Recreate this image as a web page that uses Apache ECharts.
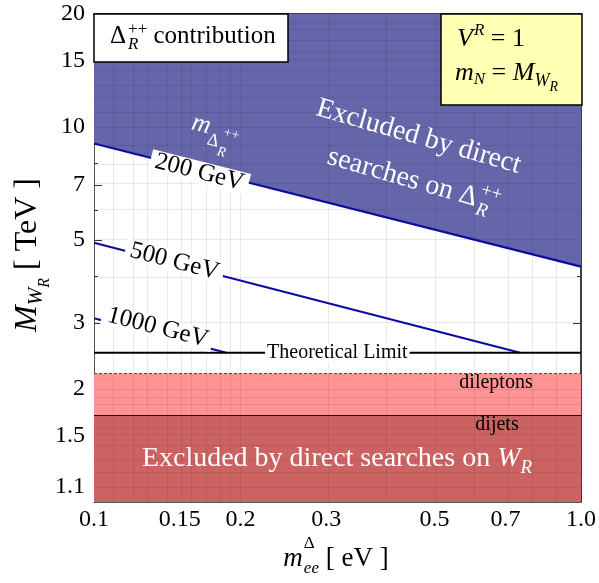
<!DOCTYPE html>
<html><head><meta charset="utf-8">
<script src="https://cdn.jsdelivr.net/npm/echarts@6/dist/echarts.min.js"></script>
<style>html,body{margin:0;padding:0;background:#fff}#c{width:599px;height:583px}</style>
</head><body><div id="c"></div>
<script>
// ---------------- data ----------------
const xRange = [0.1, 1.0];
const yRange = [1, 20];
const xTickLabels = [0.1, 0.15, 0.2, 0.3, 0.5, 0.7, 1.0];
const xMinorTicks = [0.11, 0.12, 0.13, 0.14, 0.16, 0.17, 0.18, 0.19, 0.4, 0.6, 0.8, 0.9];
const yTickLabels = [1.1, 1.5, 2, 3, 5, 7, 10, 15, 20];
const yMinorTicks = [1.2, 1.3, 1.4, 1.6, 1.7, 1.8, 1.9, 4, 6, 8, 9, 11, 12, 13, 14, 16, 17, 18, 19];
const contour200 = [[0.1, 9.03], [1.0, 4.24]];
const contour500 = [[0.1, 4.91], [0.75, 2.5]];
const contour1000 = [[0.1, 3.09], [0.187, 2.5]];
const contourNames = ['200 GeV', '500 GeV', '1000 GeV'];
const contourLabelX = [0.165, 0.146, 0.134];
const theoreticalLimit = 2.5;
const theoryLabelX = 0.316;
const dileptonLimit = 2.2;
const dijetLimit = 1.7;

// ---------------- helpers ----------------
const L = Math.log10;
const SERIF = '"Liberation Serif", "Times New Roman", serif';
const mctx = document.createElement('canvas').getContext('2d');
function fontOf(s, i) { return (i ? 'italic ' : '') + s + 'px ' + SERIF; }
function measure(t, f) { mctx.font = f; return mctx.measureText(t).width; }
function mathText(segs, o) {
  const kids = []; let cx = 0, held = 0;
  segs.forEach(g => {
    const f = fontOf(g.s, g.i);
    const w = measure(g.t, f);
    const x0 = cx + (g.dx || 0);
    kids.push({ type: 'text', x: x0, y: (g.dy || 0) - 0.34 * g.s, z: 100,
      style: { text: g.t, font: f, fill: o.color || '#000', align: 'left', verticalAlign: 'middle' } });
    if (g.stack) { held = Math.max(held, w + (g.dx || 0)); }
    else { cx = Math.max(x0 + w, cx + held); held = 0; }
  });
  const shift = o.align === 'center' ? -cx / 2 : 0;
  kids.forEach(k => { k.x += shift; });
  return { type: 'group', x: o.x, y: o.y, rotation: (o.rot || 0) * Math.PI / 180, z: 100, children: kids };
}
function nearestLabel(list, v) {
  return list.reduce((a, b) => Math.abs(L(b) - v) < Math.abs(L(a) - v) ? b : a);
}
function toLog(pts) { return pts.map(p => [L(p[0]), L(p[1])]); }
function onLine(pts, x) {
  const t = (L(x) - L(pts[0][0])) / (L(pts[1][0]) - L(pts[0][0]));
  return L(pts[0][1]) + t * (L(pts[1][1]) - L(pts[0][1]));
}

const allX = xTickLabels.concat(xMinorTicks);
const allY = yTickLabels.concat(yMinorTicks);
const majorX = xTickLabels;
const majorY = yTickLabels;

function mkAxis(dim, pos, vals, len, lineShow, lineColor, lineWidth, labels) {
  const r = dim === 'x' ? xRange : yRange;
  const ax = {
    type: 'value', position: pos, gridIndex: 0, min: L(r[0]), max: L(r[1]),
    axisLine: { show: lineShow, onZero: false, lineStyle: { color: lineColor, width: lineWidth } },
    axisTick: { show: true, inside: true, length: len, customValues: vals.map(L), lineStyle: { color: '#333', width: 1 } },
    splitLine: { show: false }, minorTick: { show: false }, minorSplitLine: { show: false },
    axisLabel: { show: false }
  };
  if (labels) {
    const list = dim === 'x' ? xTickLabels : yTickLabels;
    ax.axisLabel = {
      show: true, customValues: list.map(L), fontFamily: SERIF, fontSize: 24, color: '#000',
      margin: dim === 'x' ? 6 : 9,
      formatter: v => { const b = nearestLabel(list, v); return (dim === 'x' && b === 1) ? '1.0' : String(b); }
    };
  }
  return ax;
}

const xAxes = [
  mkAxis('x', 'bottom', allX, 4, true, '#555', 1, true),
  mkAxis('x', 'bottom', majorX, 8, false, '#555', 1, false),
  mkAxis('x', 'top', allX, 4, true, '#000', 1.5, false),
  mkAxis('x', 'top', majorX, 8, false, '#000', 1, false)
];
const yAxes = [
  mkAxis('y', 'left', allY, 4, true, '#555', 1, true),
  mkAxis('y', 'left', majorY, 8, false, '#555', 1, false),
  mkAxis('y', 'right', allY, 4, true, '#000', 1.5, false),
  mkAxis('y', 'right', majorY, 8, false, '#000', 1, false)
];

const gridMarks = xTickLabels.concat(xMinorTicks).filter(v => v > xRange[0] && v < xRange[1]).map(v => ({ xAxis: L(v) }))
  .concat(yTickLabels.concat(yMinorTicks).filter(v => v > yRange[0] && v < yRange[1]).map(v => ({ yAxis: L(v) })));

const contours = [contour200, contour500, contour1000];
const labelOffsets = [[0, 2], [0, -2], [0, -7]];
const BLUE_LINE = '#0c0ca0';

const series = [
  { type: 'line', name: 'excluded-delta', data: toLog(contour200), symbol: 'none', silent: true, z: 1,
    lineStyle: { width: 0 }, areaStyle: { origin: 'end', color: '#6565a9', opacity: 1 } },
  { type: 'line', name: 'dileptons', data: xRange.map(x => [L(x), L(dileptonLimit)]), symbol: 'none', silent: true, z: 1,
    lineStyle: { color: '#a02020', width: 1, type: [3, 2] }, areaStyle: { origin: 'start', color: '#ff9494', opacity: 1 } },
  { type: 'line', name: 'dijets', data: xRange.map(x => [L(x), L(dijetLimit)]), symbol: 'none', silent: true, z: 1,
    lineStyle: { color: '#000', width: 1 }, areaStyle: { origin: 'start', color: '#cc6363', opacity: 1 } },
  { type: 'line', name: 'grid', data: xRange.map(x => [L(x), L(yRange[0])]), symbol: 'none', silent: true, z: 2,
    lineStyle: { opacity: 0 },
    markLine: { silent: true, z: 2, symbol: ['none', 'none'], animation: false, label: { show: false },
      lineStyle: { color: 'rgba(0,0,0,0.085)', width: 1, type: 'solid' }, emphasis: { disabled: true }, data: gridMarks } },
  ...contours.map((c, i) => ({ type: 'line', name: contourNames[i], data: toLog(c), symbol: 'none', silent: true, z: 3,
    lineStyle: { color: BLUE_LINE, width: 2.2 } })),
  { type: 'line', name: 'theory', data: xRange.map(x => [L(x), L(theoreticalLimit)]), symbol: 'none', silent: true, z: 3,
    lineStyle: { color: '#000', width: 2 } },
  { type: 'scatter', name: 'contour-labels', symbolSize: 0, silent: true, z: 10, itemStyle: { opacity: 1 },
    data: contours.map((c, i) => ({ name: contourNames[i], value: [L(contourLabelX[i]), onLine(c, contourLabelX[i])],
      label: { offset: labelOffsets[i] } })),
    label: { show: true, position: 'inside', formatter: p => p.name, rotate: -14.3, fontFamily: SERIF, fontSize: 25,
      lineHeight: 22, color: '#000', opacity: 1, backgroundColor: '#fff', padding: [0, 5] } },
  { type: 'scatter', name: 'theory-label', symbolSize: 0, silent: true, z: 10, itemStyle: { opacity: 1 },
    data: [{ name: 'Theoretical Limit', value: [L(theoryLabelX), L(theoreticalLimit)] }],
    label: { show: true, position: 'inside', formatter: p => p.name, fontFamily: SERIF, fontSize: 20,
      color: '#000', opacity: 1, backgroundColor: '#fff', padding: [0, 2] } }
];

const W = '#fff';
const graphics = [
  { type: 'rect', z: 99, shape: { x: 94, y: 14, width: 194, height: 48 }, style: { fill: '#fff', stroke: '#000', lineWidth: 1.5 } },
  mathText([{ t: 'Δ', s: 25 }, { t: '++', s: 17, dy: -10, dx: 2, stack: true }, { t: 'R', s: 17, i: true, dy: 5, dx: 2 },
    { t: ' contribution', s: 25 }], { x: 110, y: 45 }),
  { type: 'rect', z: 99, shape: { x: 441, y: 14, width: 141, height: 91 }, style: { fill: '#ffffb4', stroke: '#000', lineWidth: 1.5 } },
  mathText([{ t: 'V', s: 26, i: true }, { t: 'R', s: 17, i: true, dy: -12, dx: 1 }, { t: ' = 1', s: 26 }], { x: 457, y: 48 }),
  mathText([{ t: 'm', s: 26, i: true }, { t: 'N', s: 17, i: true, dy: 3 }, { t: ' = ', s: 26 }, { t: 'M', s: 26, i: true },
    { t: 'W', s: 18, i: true, dy: 5 }, { t: 'R', s: 14, i: true, dy: 10 }], { x: 455, y: 82 }),
  mathText([{ t: 'Excluded by direct', s: 28 }], { x: 416, y: 146, rot: -16, align: 'center', color: W }),
  mathText([{ t: 'searches on ', s: 28 }, { t: 'Δ', s: 28 }, { t: '++', s: 19, dy: -13, dx: 2, stack: true },
    { t: 'R', s: 19, i: true, dy: 7, dx: 2 }], { x: 411, y: 190, rot: -16, align: 'center', color: W }),
  mathText([{ t: 'm', s: 26, i: true }, { t: 'Δ', s: 18, dy: 10 }, { t: '++', s: 14, dy: -2, dx: 3, stack: true },
    { t: 'R', s: 14, i: true, dy: 18, dx: 1 }], { x: 190, y: 131, rot: -14, color: W }),
  mathText([{ t: 'Excluded by direct searches on ', s: 28 }, { t: 'W', s: 28, i: true }, { t: 'R', s: 19, i: true, dy: 6 }],
    { x: 337, y: 468, align: 'center', color: W }),
  mathText([{ t: 'dileptons', s: 20 }], { x: 496, y: 390, align: 'center' }),
  mathText([{ t: 'dijets', s: 20 }], { x: 497, y: 432, align: 'center' }),
  mathText([{ t: 'm', s: 27, i: true }, { t: 'Δ', s: 17, dy: -19, dx: 1, stack: true }, { t: 'ee', s: 17, i: true, dy: 6, dx: 1 },
    { t: ' [ eV ]', s: 27 }], { x: 336, y: 568, align: 'center' }),
  mathText([{ t: 'M', s: 32, i: true }, { t: 'W', s: 21, i: true, dy: 6 }, { t: 'R', s: 16, i: true, dy: 12 },
    { t: ' [ TeV ]', s: 32 }], { x: 38, y: 255, rot: 90, align: 'center' })
];

const chart = echarts.init(document.getElementById('c'), null, { renderer: 'canvas' });
chart.setOption({
  animation: false,
  backgroundColor: '#fff',
  grid: { left: 94, right: 16, top: 14, bottom: 81, containLabel: false },
  xAxis: xAxes,
  yAxis: yAxes,
  series: series,
  graphic: { elements: graphics }
});
</script>
</body></html>
